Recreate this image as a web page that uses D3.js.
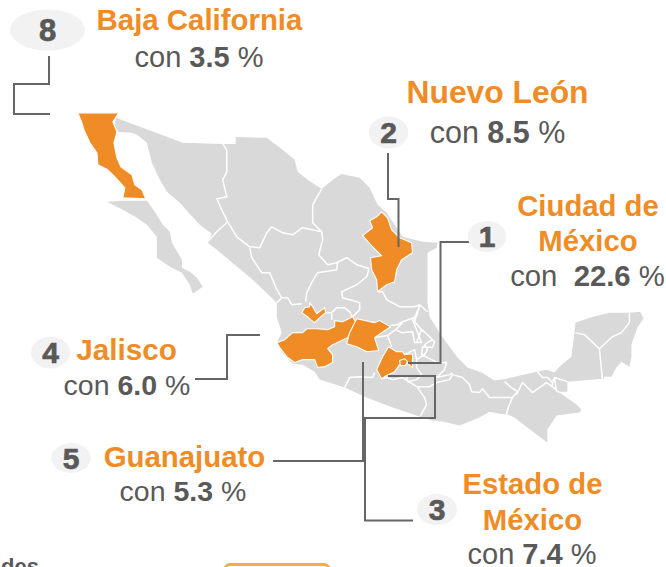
<!DOCTYPE html>
<html>
<head>
<meta charset="utf-8">
<style>
    html, body { margin: 0; padding: 0; background: #fff; overflow: hidden; }
    svg { display: block; }
    text { font-family: "Liberation Sans", Arial, sans-serif; white-space: pre; }
</style>
</head>
<body>
<script src="https://d3js.org/d3.v7.min.js"></script>
<script>
// ranking and share of each state
const rangos = [8, 2, 1, 4, 5, 3];
const entidades = [["Baja California"], ["Nuevo León"], ["Ciudad de", "México"], ["Jalisco"], ["Guanajuato"], ["Estado de", "México"]];
const porcentajes = ["3.5", "8.5", "22.6", "6.0", "5.3", "7.4"];

// outlines, [lon, lat]
const continente = [[-115.14,32.23],[-111.52,30.88],[-109.36,30.82],[-108.66,30.82],[-108.66,31.20],[-106.98,31.15],[-106.12,30.50],[-105.47,29.96],[-105.31,29.31],[-104.77,28.88],[-104.01,28.39],[-103.42,28.88],[-102.93,29.20],[-101.96,28.99],[-101.42,28.45],[-100.99,27.53],[-100.50,27.10],[-99.96,26.29],[-99.64,25.80],[-98.56,25.53],[-97.75,25.48],[-97.80,25.21],[-98.29,24.94],[-98.29,22.24],[-98.18,21.48],[-97.64,20.62],[-97.10,19.86],[-96.67,19.27],[-96.13,18.73],[-95.37,18.46],[-94.67,18.03],[-94.02,18.13],[-92.40,18.51],[-91.86,18.62],[-91.43,18.46],[-91.05,18.89],[-90.51,19.32],[-90.35,20.62],[-90.30,21.16],[-89.54,21.43],[-88.46,21.70],[-87.38,21.70],[-86.79,21.75],[-86.62,21.37],[-86.95,20.89],[-87.27,19.97],[-87.27,19.27],[-87.38,18.78],[-87.81,19.05],[-88.08,18.73],[-88.35,18.24],[-88.73,18.24],[-88.78,18.13],[-90.73,17.97],[-90.73,17.43],[-91.32,17.43],[-91.16,17.38],[-90.24,16.73],[-89.97,16.46],[-90.08,16.30],[-91.32,16.14],[-91.81,15.38],[-91.81,14.68],[-92.62,15.27],[-93.59,16.03],[-93.97,16.19],[-94.40,16.24],[-94.94,16.35],[-95.48,16.03],[-96.56,15.60],[-97.48,15.81],[-98.07,15.87],[-98.72,16.08],[-100.18,16.57],[-101.58,17.11],[-102.77,17.65],[-104.12,18.08],[-104.39,18.51],[-105.04,18.89],[-105.58,18.94],[-106.17,19.54],[-106.44,20.08],[-106.17,20.62],[-106.44,21.48],[-106.44,22.24],[-107.74,23.48],[-108.71,24.29],[-109.68,25.10],[-110.17,25.48],[-109.95,25.96],[-110.60,26.45],[-111.25,27.15],[-111.68,27.64],[-112.38,28.23],[-112.76,28.88],[-113.19,29.80],[-113.46,30.88],[-114.00,31.31],[-114.27,31.42],[-115.03,31.47],[-115.19,31.85]];
const bajaSur = [[-115.62,27.69],[-114.76,27.75],[-113.46,27.75],[-113.03,27.15],[-112.60,26.45],[-112.22,26.07],[-112.11,25.48],[-111.57,24.56],[-111.57,24.13],[-111.14,23.91],[-110.76,23.59],[-110.44,23.10],[-110.98,22.72],[-111.14,23.21],[-111.57,23.86],[-112.22,24.18],[-112.92,24.67],[-112.92,25.80],[-113.46,26.45],[-114.00,26.83],[-114.76,27.26],[-115.30,27.53]];

const bajaCalifornia = [[-117.19,32.50],[-114.97,32.50],[-115.30,32.01],[-115.08,31.47],[-115.24,30.88],[-115.08,30.07],[-114.87,29.58],[-114.27,29.15],[-114.11,28.61],[-113.73,28.34],[-113.52,27.85],[-114.76,27.91],[-114.65,28.45],[-115.19,29.04],[-115.57,29.42],[-116.11,29.69],[-116.16,30.34],[-116.54,30.88],[-116.86,31.58],[-116.97,31.96]];
const nuevoLeon = [[-100.77,27.15],[-100.45,26.83],[-100.23,26.18],[-99.80,25.75],[-99.15,25.48],[-99.10,24.94],[-99.69,24.56],[-99.96,24.02],[-100.07,23.37],[-100.50,23.21],[-100.99,22.83],[-101.04,23.48],[-101.31,24.02],[-101.37,24.67],[-100.77,24.78],[-101.26,25.26],[-101.80,25.86],[-101.26,26.29],[-101.42,26.67],[-101.04,26.88]];
const jalisco = [[-106.44,20.08],[-106.01,20.24],[-105.58,20.62],[-105.04,20.62],[-104.82,20.83],[-104.23,20.83],[-103.69,20.78],[-103.31,20.94],[-103.31,21.27],[-102.88,21.21],[-102.34,21.48],[-102.18,21.21],[-102.61,20.35],[-103.42,19.97],[-103.69,19.75],[-103.42,19.43],[-103.42,19.00],[-103.85,18.78],[-104.23,18.73],[-104.39,19.16],[-105.04,19.16],[-105.47,19.00],[-105.90,19.32],[-106.28,19.81]];
const jaliscoNorte = [[-104.66,22.24],[-104.50,22.02],[-104.28,21.64],[-103.85,21.97],[-103.80,21.70],[-104.12,21.43],[-104.39,21.16],[-104.61,21.32],[-104.77,21.48],[-105.09,21.70],[-104.93,21.97],[-104.66,22.02]];
const guanajuato = [[-102.12,21.37],[-101.15,21.16],[-100.88,21.27],[-100.29,20.94],[-100.77,20.62],[-101.15,20.35],[-100.93,19.65],[-101.58,19.59],[-102.12,19.86],[-102.66,20.02],[-102.50,20.62]];
const edomex = [[-100.39,19.86],[-99.96,19.59],[-99.64,19.59],[-99.53,19.43],[-99.10,19.48],[-99.10,18.73],[-99.42,19.00],[-99.80,18.89],[-100.07,18.51],[-100.50,18.30],[-100.77,18.13],[-101.04,18.62],[-100.72,19.32]];
const cdmx = [[-99.80,19.11],[-99.53,19.21],[-99.37,19.05],[-99.48,18.84],[-99.75,18.84]];

// state borders drawn in white
const fronteras = [
    [[-109.36,30.82],[-109.14,30.50],[-109.14,29.85],[-109.14,29.31],[-109.36,28.88],[-109.14,27.96],[-109.68,27.85],[-109.41,27.26],[-109.09,26.61]],
    [[-109.09,26.61],[-109.68,26.07],[-110.17,25.53]],
    [[-109.09,26.61],[-108.60,25.80],[-107.90,25.26],[-107.36,25.21],[-106.98,26.02],[-106.71,26.34],[-106.12,26.02],[-105.58,25.91],[-105.04,26.29],[-104.01,26.07]],
    [[-104.01,28.39],[-104.50,27.53],[-104.50,26.56],[-104.01,26.07]],
    [[-104.01,26.07],[-103.96,25.64],[-104.17,24.83],[-103.69,24.29],[-103.20,24.40],[-102.66,24.67],[-102.12,24.29],[-101.42,24.07]],
    [[-107.90,25.21],[-107.79,24.67],[-107.25,23.86],[-106.82,23.86],[-106.44,22.94],[-106.17,22.51],[-105.85,22.51],[-105.63,22.13],[-105.09,22.18]],
    [[-106.44,22.24],[-106.17,22.51]],
    [[-103.15,24.45],[-103.20,24.02],[-104.23,23.86],[-104.55,23.32],[-104.82,22.78],[-104.88,22.29]],
    [[-101.47,24.02],[-101.58,23.64],[-102.12,23.21],[-102.93,22.83],[-102.88,22.51],[-102.12,22.29],[-101.96,22.24],[-101.96,21.86],[-102.34,21.48]],
    [[-103.47,21.32],[-103.47,21.70],[-103.20,21.97],[-102.77,21.97],[-102.45,21.70],[-102.39,21.48]],
    [[-103.80,21.70],[-103.47,21.70]],
    [[-100.99,22.83],[-100.72,22.83],[-100.50,22.40],[-99.80,22.02],[-98.99,22.02],[-98.72,22.13],[-98.29,21.75]],
    [[-98.72,22.13],[-98.88,21.48],[-99.64,21.21],[-99.91,21.05],[-100.29,21.00]],
    [[-101.15,20.35],[-100.45,20.46],[-100.02,20.78],[-99.64,21.16]],
    [[-100.45,20.46],[-100.23,19.86]],
    [[-100.02,20.78],[-99.69,20.62],[-99.10,20.67],[-98.99,20.08],[-98.61,20.08],[-98.88,20.78],[-99.10,21.32],[-98.83,21.70]],
    [[-98.29,20.51],[-98.02,20.24],[-98.45,19.97],[-98.29,19.70],[-98.45,19.43],[-98.88,19.16],[-98.99,19.70],[-99.53,19.43]],
    [[-98.61,20.78],[-98.29,20.51]],
    [[-98.88,20.08],[-98.61,20.78],[-98.99,21.21],[-98.88,21.70],[-98.72,22.02]],
    [[-98.29,20.51],[-97.91,20.13],[-98.02,19.81],[-98.56,19.86],[-98.61,19.43],[-97.75,19.00],[-97.26,19.00],[-97.37,18.62],[-97.80,18.19],[-97.10,18.35],[-96.94,18.46]],
    [[-102.77,17.65],[-102.50,18.19],[-101.96,18.24],[-101.26,18.19],[-101.15,18.46]],
    [[-100.77,18.13],[-100.50,18.19],[-100.18,18.08],[-99.64,18.19],[-98.88,17.70],[-98.18,17.70],[-97.80,17.92],[-97.10,18.08],[-96.94,18.35],[-96.40,18.19],[-96.02,17.81],[-95.91,17.43],[-95.48,17.38],[-95.32,17.59],[-94.94,17.11],[-93.70,17.11],[-93.97,16.46],[-94.02,16.19]],
    [[-98.83,17.65],[-98.45,17.11],[-98.34,16.73],[-98.67,16.14]],
    [[-99.42,18.24],[-99.37,17.97],[-98.88,18.08],[-98.61,18.35]],
    [[-98.88,19.16],[-98.88,18.73],[-98.61,18.35]],
    [[-94.13,17.97],[-93.75,17.65],[-93.43,17.43],[-93.70,17.11]],
    [[-93.48,17.27],[-93.16,17.92],[-92.89,17.65],[-92.62,17.38],[-91.86,17.92],[-91.54,17.70],[-91.16,17.38]],
    [[-92.35,18.51],[-92.08,18.19],[-91.81,18.19],[-91.54,17.92],[-91.43,18.19],[-90.73,17.97]],
    [[-91.54,17.92],[-91.54,17.70]],
    [[-91.43,18.19],[-91.32,17.43]],
    [[-90.30,20.62],[-89.81,20.51],[-89.00,19.75],[-88.84,18.13]],
    [[-89.00,19.75],[-88.30,20.40],[-87.81,20.62],[-87.38,21.16],[-87.38,21.70]]
];

const width = 666;
const height = 567;
const gris = "#d9d9d9";
const naranja = "#ef8c26";
const textoGris = "#595959";
const linea = "#666666";

const svg = d3.select("body").append("svg").attr("width", width).attr("height", height);

const proyeccion = d3.geoIdentity().reflectY(true).scale(18.5).translate([2245.9, 714.1]);
const path = d3.geoPath(proyeccion);

const poly = c => ({type: "Polygon", coordinates: [c.concat([c[0]])]});

// base map
svg.append("g").selectAll("path")
    .data([continente, bajaSur].map(poly))
    .enter().append("path")
    .attr("d", path)
    .attr("fill", gris);

svg.append("path")
    .datum({type: "MultiLineString", coordinates: fronteras})
    .attr("d", path)
    .attr("fill", "none")
    .attr("stroke", "#fff")
    .attr("stroke-width", 1.5)
    .attr("stroke-linejoin", "round");

// highlighted states
svg.append("g").selectAll("path")
    .data([bajaCalifornia, nuevoLeon, jalisco, jaliscoNorte, guanajuato, edomex, cdmx].map(poly))
    .enter().append("path")
    .attr("d", path)
    .attr("fill", naranja)
    .attr("stroke", "#fff")
    .attr("stroke-width", 1.1)
    .attr("stroke-linejoin", "round");

// leader lines
const guias = [
    [[49,56],[49,84],[14,84],[14,114],[50,114]],
    [[388,153],[388,199],[398.5,199],[398.5,247]],
    [[474,242],[440.5,242],[440.5,363],[408,363]],
    [[413,520.5],[365,520.5],[365,418],[435,418],[435,376],[388,376]],
    [[273,461],[363,461],[363,362]],
    [[195,379],[227,379],[227,335],[260,335]]
];
svg.append("g").selectAll("path")
    .data(guias)
    .enter().append("path")
    .attr("d", d3.line())
    .attr("fill", "none")
    .attr("stroke", linea)
    .attr("stroke-width", 2);

// number badges: cx, cy, rx, ry, font size
const insignias = [
    [47.5, 30, 37.5, 20.5, 31],
    [388.5, 132.5, 19.7, 16, 30],
    [487, 236.5, 19.3, 15.5, 30],
    [50.5, 352.5, 19.5, 16, 30],
    [71, 458, 19.7, 15, 30],
    [437, 509.5, 20, 15.5, 30]
];
const badge = svg.append("g").selectAll("g")
    .data(rangos)
    .enter().append("g");
badge.append("ellipse")
    .attr("cx", (d, i) => insignias[i][0])
    .attr("cy", (d, i) => insignias[i][1])
    .attr("rx", (d, i) => insignias[i][2])
    .attr("ry", (d, i) => insignias[i][3])
    .attr("fill", "#f2f2f2");
badge.append("text")
    .attr("x", (d, i) => insignias[i][0])
    .attr("y", (d, i) => insignias[i][1] + insignias[i][4] * 0.36)
    .attr("text-anchor", "middle")
    .attr("font-size", (d, i) => insignias[i][4])
    .attr("font-weight", "bold")
    .attr("fill", textoGris)
    .attr("stroke", textoGris)
    .attr("stroke-width", 0.7)
    .text(d => d);

// state labels: name x, con x, name baselines, con baseline, name size, con size
const etiquetas = [
    [199.5, 199, [30], 67, 29.4, 29],
    [497.5, 497.5, [103], 143, 31.8, 30.5],
    [588, 587.5, [216, 251], 286, 29.3, 29.3],
    [126.5, 127, [360], 395, 29.7, 28.5],
    [184.5, 183, [467], 501, 29.4, 28.5],
    [532.5, 532, [494, 530], 564, 29.3, 29]
];
entidades.forEach((lineas, i) => {
    const [nx, cx, ys, yc, fn, fc] = etiquetas[i];
    lineas.forEach((l, j) => {
        svg.append("text")
            .attr("x", nx).attr("y", ys[j])
            .attr("text-anchor", "middle")
            .attr("font-size", fn)
            .attr("font-weight", "bold")
            .attr("fill", naranja)
            .text(l);
    });
    const t = svg.append("text")
        .attr("x", cx).attr("y", yc)
        .attr("text-anchor", "middle")
        .attr("font-size", fc)
        .attr("fill", textoGris);
    t.append("tspan").text(i == 2 ? "con  " : "con ");
    t.append("tspan").attr("font-weight", "bold").text(porcentajes[i]);
    t.append("tspan").text(" %");
});

// cut-off pieces at the bottom edge
svg.append("text")
    .attr("x", 39).attr("y", 574)
    .attr("text-anchor", "end")
    .attr("font-size", 22)
    .attr("font-weight", "bold")
    .attr("fill", textoGris)
    .text("Entidades");
svg.append("rect")
    .attr("x", 225).attr("y", 564.5)
    .attr("width", 104).attr("height", 30)
    .attr("rx", 5)
    .attr("fill", "#fff")
    .attr("stroke", "#f9a945")
    .attr("stroke-width", 3);
</script>
</body>
</html>
